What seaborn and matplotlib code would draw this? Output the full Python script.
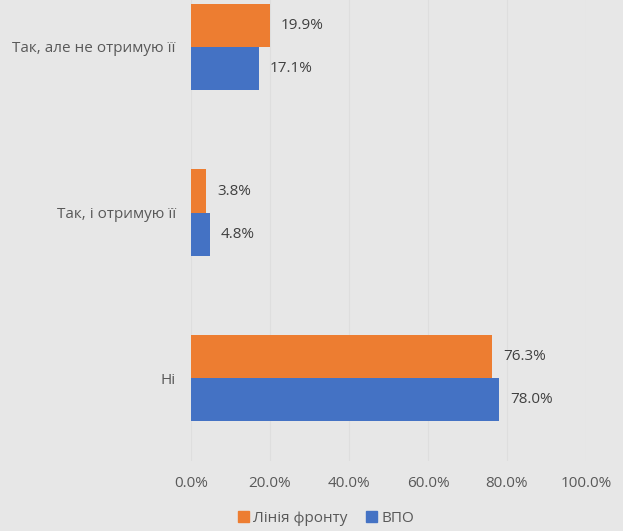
import matplotlib
matplotlib.use("Agg")
import matplotlib.pyplot as plt
import seaborn as sns
import pandas as pd

categories = ["Так, але не отримую її", "Так, і отримую її", "Ні"]
series_names = ["Лінія фронту", "ВПО"]
front_line = [19.9, 3.8, 76.3]
idp = [17.1, 4.8, 78.0]
x_ticks = [0, 20, 40, 60, 80, 100]
colors = ["#ED7D31", "#4472C4"]

rows = []
for c, a, b in zip(categories, front_line, idp):
    rows.append({"cat": c, "series": series_names[0], "val": a})
    rows.append({"cat": c, "series": series_names[1], "val": b})
df = pd.DataFrame(rows)

sns.set_theme(style="white")
plt.rcParams["font.family"] = ["Open Sans", "DejaVu Sans"]
fs = 11
bg = "#e7e7e7"
fig = plt.figure(figsize=(6.23, 5.31), dpi=100, facecolor=bg)
ax = fig.add_axes([191/623, 70/531, (586-191)/623, 461/531])
ax.set_facecolor(bg)

sns.barplot(data=df, y="cat", x="val", hue="series", order=categories,
            hue_order=series_names, palette=colors, orient="h", width=0.52,
            saturation=1, ax=ax, legend=True, linewidth=0)

ax.set_xlim(0, 100)
ax.set_ylim(2.5, -0.5 + 36/166)
ax.set_xticks(x_ticks)
ax.set_xticklabels([f"{t:.1f}%" for t in x_ticks], fontsize=fs, color="#595959")
ax.tick_params(axis="y", labelsize=fs, labelcolor="#595959", length=0, pad=11)
ax.tick_params(axis="x", length=0, pad=11)
ax.set_xlabel("")
ax.set_ylabel("")
ax.grid(axis="x", color="#dedede", linewidth=0.8)
ax.set_axisbelow(True)
for s in ax.spines.values():
    s.set_visible(False)

for cont in ax.containers:
    ax.bar_label(cont, labels=[f"{v:.1f}%" for v in cont.datavalues],
                 padding=8, fontsize=fs, color="#404040")

ax.legend_.remove()
handles = [plt.Rectangle((0, 0), 1, 1, color=c) for c in colors]
fig.legend(handles, series_names, loc="center", bbox_to_anchor=(326/623, 1 - 518/531),
           ncol=2, frameon=False, fontsize=fs, handlelength=0.7, handleheight=0.7,
           handletextpad=0.3, columnspacing=1.2, labelcolor="#595959")

fig.savefig("out.png", dpi=100, facecolor=bg)
